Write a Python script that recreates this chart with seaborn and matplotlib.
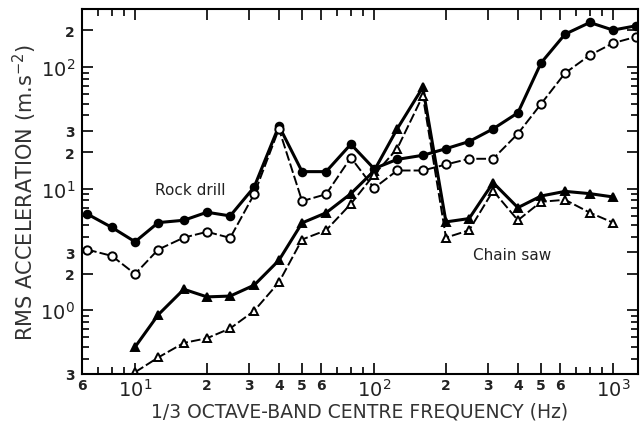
import numpy as np
import pandas as pd
import matplotlib
matplotlib.use("Agg")
import matplotlib.pyplot as plt
import seaborn as sns
from matplotlib.ticker import FixedLocator, FixedFormatter, NullFormatter

# ---- data ----
freq_rd = [6.3, 8, 10, 12.5, 16, 20, 25, 31.5, 40, 50, 63, 80, 100, 125, 160,
           200, 250, 315, 400, 500, 630, 800, 1000, 1250]
rock_drill_a = [6.2, 4.8, 3.66, 5.26, 5.5, 6.4, 5.97, 10.3, 32.8, 13.8, 13.8, 23.2,
                14.6, 17.4, 18.8, 21.3, 24.4, 31, 42, 108, 186, 232, 201, 218]
rock_drill_b = [3.16, 2.8, 1.99, 3.16, 3.96, 4.42, 3.94, 9.0, 31, 7.9, 9.0, 18,
                10.1, 14.1, 14.1, 15.8, 17.6, 17.6, 28.3, 49.7, 89, 125, 157, 177]

freq_cs = [10, 12.5, 16, 20, 25, 31.5, 40, 50, 63, 80, 100, 125, 160,
           200, 250, 315, 400, 500, 630, 800, 1000]
chain_saw_a = [0.50, 0.92, 1.49, 1.29, 1.31, 1.61, 2.58, 5.23, 6.33, 9.1, 14, 31, 68,
               5.33, 5.68, 11.2, 6.98, 8.7, 9.5, 9.1, 8.55]
chain_saw_b = [0.31, 0.41, 0.54, 0.59, 0.71, 0.99, 1.7, 3.82, 4.55, 7.5, 13, 21.3, 58,
               3.96, 4.55, 9.6, 5.5, 7.8, 8.1, 6.35, 5.26]

x_tick_vals = [6, 10, 20, 30, 40, 50, 60, 100, 200, 300, 400, 500, 600, 1000]
x_tick_labels = ["6", "$10^1$", "2", "3", "4", "5", "6", "$10^2$",
                 "2", "3", "4", "5", "6", "$10^3$"]
y_tick_vals = [0.3, 1, 2, 3, 10, 20, 30, 100, 200]
y_tick_labels = ["3", "$10^0$", "2", "3", "$10^1$", "2", "3", "$10^2$", "2"]

sns.set_style("ticks")
plt.rcParams['font.family'] = ['DejaVu Sans']

fig = plt.figure(figsize=(6.41, 4.31), dpi=100)
ax = fig.add_axes([0.128, 0.130, 0.867, 0.847])

dash = (0, (5, 1.6))
series = [
    (freq_rd, rock_drill_a, 'o', 'black', '-', 2.2, 5.5),
    (freq_rd, rock_drill_b, 'o', 'white', dash, 1.4, 6),
    (freq_cs, chain_saw_a, '^', 'black', '-', 2.2, 5.5),
    (freq_cs, chain_saw_b, '^', 'white', dash, 1.4, 6),
]
for fx, fy, mk, fc, ls, lw, ms in series:
    df = pd.DataFrame({"f": fx, "v": fy})
    sns.lineplot(data=df, x="f", y="v", ax=ax, color='black', marker=mk,
                 markerfacecolor=fc, markeredgecolor='black', markeredgewidth=1.4,
                 markersize=ms, linewidth=lw, linestyle=ls, legend=False)

ax.set_xscale('log')
ax.set_yscale('log')
ax.set_xlim(6, 1270)
ax.set_ylim(0.3, 300)

ax.xaxis.set_major_locator(FixedLocator(x_tick_vals))
ax.xaxis.set_major_formatter(FixedFormatter(x_tick_labels))
ax.yaxis.set_major_locator(FixedLocator(y_tick_vals))
ax.yaxis.set_major_formatter(FixedFormatter(y_tick_labels))
ax.xaxis.set_minor_locator(matplotlib.ticker.LogLocator(base=10, subs=np.arange(1, 10), numticks=20))
ax.yaxis.set_minor_locator(matplotlib.ticker.LogLocator(base=10, subs=np.arange(1, 10), numticks=20))
ax.xaxis.set_minor_formatter(NullFormatter())
ax.yaxis.set_minor_formatter(NullFormatter())

ax.tick_params(which='both', direction='in', top=True, right=True, width=1.2, color='black')
ax.tick_params(which='major', length=8)
ax.tick_params(which='minor', length=5)
ax.tick_params(axis='x', which='major', pad=3)
ax.tick_params(axis='y', which='major', pad=5)

for lab in ax.get_xticklabels() + ax.get_yticklabels():
    t = lab.get_text()
    if "10" in t:
        lab.set_fontsize(14)
    else:
        lab.set_fontsize(10)
        lab.set_fontweight('bold')
    lab.set_color('#222222')

for sp in ax.spines.values():
    sp.set_linewidth(1.5)
    sp.set_color('black')

ax.set_xlabel("1/3 OCTAVE-BAND CENTRE FREQUENCY (Hz)", fontsize=13.5, color='#333333', labelpad=1)
ax.set_ylabel("RMS ACCELERATION (m.s$^{-2}$)", fontsize=15, color='#333333', labelpad=1)

ax.text(17, 9.8, "Rock drill", fontsize=11, ha='center', va='center', color='#222222')
ax.text(378, 2.88, "Chain saw", fontsize=11, ha='center', va='center', color='#222222')

fig.savefig("out.png", dpi=100)
